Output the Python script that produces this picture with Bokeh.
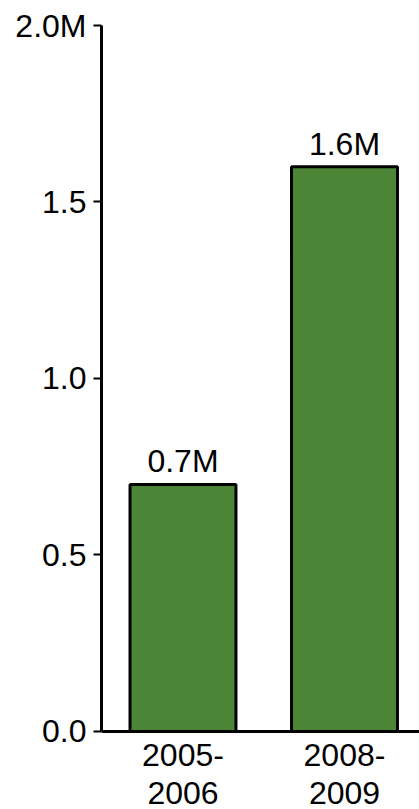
from bokeh.plotting import figure
from bokeh.models import Range1d, FixedTicker, ColumnDataSource, Span
from bokeh.core.properties import value
from bokeh.embed import file_html
from bokeh.resources import INLINE

# Data
periods = ["2005-\n2006", "2008-\n2009"]
positions = [1, 2]
counts_m = [0.7, 1.6]
bar_labels = ["0.7M", "1.6M"]
y_ticks = [0.0, 0.5, 1.0, 1.5, 2.0]
y_tick_labels = ["0.0", "0.5", "1.0", "1.5", "2.0M"]

FONT = "Liberation Sans"
SIZE = "32px"
GREEN = "#4c8536"

# The frame runs to the bottom of the canvas so the two-line period names
# can sit under the baseline; the value axis itself is bounded to 0..2.
p = figure(
    width=419, height=809,
    x_range=Range1d(0.4954, 2.4644),
    y_range=Range1d(-0.221, 2.0),
    x_axis_location=None,
    output_backend="svg", toolbar_location=None,
    min_border_left=101, min_border_right=0,
    min_border_top=25, min_border_bottom=0,
)
p.outline_line_color = None
p.grid.visible = False
p.background_fill_color = "white"
p.border_fill_color = "white"

src = ColumnDataSource(dict(x=positions, top=counts_m, label=bar_labels))
p.vbar(x="x", top="top", bottom=0, width=0.656, source=src,
       fill_color=GREEN, line_color="black", line_width=3)
p.text(x="x", y="top", text="label", source=src,
       text_align="center", text_baseline="bottom", y_offset=-5,
       text_font=value(FONT), text_font_size=SIZE, text_color="black")

# baseline of the bars
p.add_layout(Span(location=0, dimension="width", line_color="black", line_width=3))

# period names, one text row per line
rows = list(zip(*[name.split("\n") for name in periods]))
for i, row in enumerate(rows):
    p.text(x=positions, y=[0] * len(positions), text=list(row),
           text_align="center", text_baseline="alphabetic",
           y_offset=24 + 38 * i,
           text_font=value(FONT), text_font_size=SIZE, text_color="black")

# y axis
yax = p.yaxis[0]
yax.bounds = (0, 2.0)
yax.ticker = FixedTicker(ticks=y_ticks)
yax.major_label_overrides = {t: l for t, l in zip(y_ticks, y_tick_labels)}
yax.axis_line_width = 3
yax.major_tick_line_width = 2
yax.major_tick_out = 8
yax.major_tick_in = 0
yax.minor_tick_out = 0
yax.minor_tick_in = 0
yax.major_label_standoff = 7
yax.major_label_text_font = FONT
yax.major_label_text_font_size = SIZE
yax.major_label_text_color = "black"

open("out.html", "w").write(file_html(p, INLINE))
